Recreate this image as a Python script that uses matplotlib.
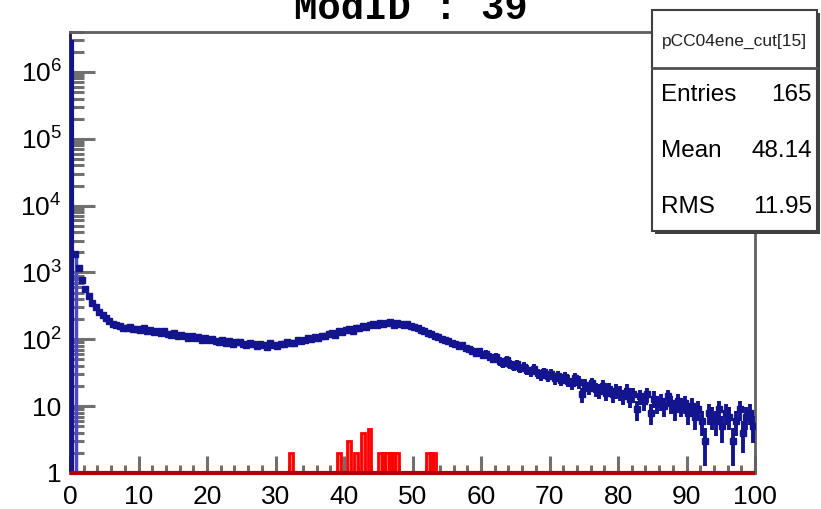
import numpy as np
import matplotlib
matplotlib.use("Agg")
from matplotlib import pyplot as plt
from matplotlib.patches import Rectangle
from matplotlib.ticker import FixedLocator, LogLocator, NullFormatter, MultipleLocator

plt.rcParams['font.family'] = ['Liberation Sans', 'DejaVu Sans']
plt.rcParams['mathtext.fontset'] = 'custom'
plt.rcParams['mathtext.rm'] = 'Liberation Sans'
plt.rcParams['mathtext.it'] = 'Liberation Sans'

# blue histogram: 200 bins of width 0.5 from 0 to 100
blue_counts = [
    3000000, 1900, 1150, 780, 560, 440, 350, 300, 255, 228,
    205, 188, 172, 165, 156, 150, 147, 152, 141, 144,
    139, 147, 133, 138, 128, 135, 124, 131, 121, 118,
    125, 114, 117, 111, 106, 113, 103, 108, 99, 104,
    96, 101, 94, 91, 98, 88, 93, 86, 90, 92,
    85, 81, 89, 84, 79, 86, 83, 77, 88, 82,
    80, 86, 84, 91, 87, 89, 96, 93, 99, 104,
    101, 109, 106, 114, 111, 119, 125, 118, 131, 127,
    136, 141, 134, 150, 146, 158, 153, 166, 172, 163,
    178, 169, 175, 181, 166, 173, 170, 161, 168, 157,
    152, 146, 139, 133, 126, 121, 113, 109, 102, 97,
    93, 89, 84, 79, 81, 74, 71, 68, 63, 66,
    58, 61, 54, 51, 55, 47, 44, 49, 42, 40,
    43, 37, 39, 35, 33, 36, 31, 29, 32, 28,
    30, 26, 28, 25, 27, 24, 22, 26, 23, 15,
    21, 19, 22, 18, 17, 20, 16, 18, 15, 17,
    16, 14, 17, 13, 15, 9, 14, 12, 15, 8,
    13, 11, 12, 10, 14, 11, 9, 12, 10, 11,
    8, 10, 7, 9, 6, 3, 8, 7, 6, 9,
    5, 8, 7, 3, 6, 9, 4, 7, 8, 5,
]
bin_width = 0.5

# red (cut) histogram: non-empty bins only
red_centers = [32.25, 39.25, 40.75, 41.75, 42.75, 43.75,
               45.25, 45.75, 46.25, 46.75, 47.25, 47.75,
               52.25, 52.75, 53.25]
red_counts = [2, 2, 3, 2, 4, 4.5,
              2, 2, 2, 2, 2, 2,
              2, 2, 2]

stats_title = "pCC04ene_cut[15]"
stats_rows = [("Entries", "165"), ("Mean", "48.14"), ("RMS", "11.95")]
title = "ModID : 39"

W, H = 821, 509
fig = plt.figure(figsize=(W / 100, H / 100), dpi=100)
ax = fig.add_axes([70 / W, 1 - 473 / H, 685 / W, (473 - 31.7) / H])

navy = '#14148f'
counts = np.array(blue_counts, dtype=float)
centers = np.arange(len(counts)) * bin_width + bin_width / 2

# spike in first bin and the rising edge
ax.vlines(centers[0], 1, counts[0], color=navy, lw=3, zorder=3)
ax.vlines(centers[1] + 0.1, 1, counts[1], color='#4a4ac4', lw=2.5, zorder=3)
ax.errorbar(centers[1:], counts[1:], xerr=bin_width / 2, yerr=np.sqrt(counts[1:]),
            fmt='s', ms=4.5, color=navy, ecolor=navy, elinewidth=2.8, capsize=0, zorder=3)

# red histogram
ax.bar(red_centers, np.array(red_counts) - 1, bottom=1, width=bin_width,
       color=(1, 0.25, 0.25, 0.8), edgecolor='red', lw=2, zorder=2)
ax.hlines(1.0, 0, 100, color='#b00000', lw=3, zorder=4, clip_on=False)

ax.set_xlim(0, 100)
ax.set_yscale('log')
ax.set_ylim(1, 4e6)

ax.xaxis.set_major_locator(MultipleLocator(10))
ax.xaxis.set_minor_locator(MultipleLocator(2))
yt = [1, 10, 1e2, 1e3, 1e4, 1e5, 1e6]
ax.yaxis.set_major_locator(FixedLocator(yt))
ax.set_yticklabels(['1', '10', '$10^{2}$', '$10^{3}$', '$10^{4}$', '$10^{5}$', '$10^{6}$'])
ax.yaxis.set_minor_locator(LogLocator(base=10, subs=np.arange(2, 10), numticks=20))
ax.yaxis.set_minor_formatter(NullFormatter())

ax.tick_params(axis='both', which='both', direction='in', colors='#707070',
               labelcolor='black', labelsize=19, top=False, right=False)
ax.tick_params(axis='x', which='major', length=12, width=2.2, pad=9)
ax.tick_params(axis='x', which='minor', length=6, width=2.2)
ax.tick_params(axis='y', which='major', length=18, width=2.2, pad=6)
ax.tick_params(axis='y', which='minor', length=10, width=2.2)
for s in ax.spines.values():
    s.set_color('#606060')
    s.set_linewidth(2)
ax.spines['left'].set_color('#1a1a50')

fig.text(411 / W, 1 - 19 / H, title, family=['Liberation Mono', 'DejaVu Sans Mono'],
         fontsize=28, ha='center', va='baseline', weight='bold')

# stats box with shadow
bx0, by0, bx1, by1 = 652, 10, 817, 231
fig.patches.append(Rectangle(((bx0 + 3) / W, 1 - (by1 + 3) / H), (bx1 - bx0) / W, (by1 - by0) / H,
                             transform=fig.transFigure, fc='#404040', ec='none', zorder=5))
fig.patches.append(Rectangle((bx0 / W, 1 - by1 / H), (bx1 - bx0) / W, (by1 - by0) / H,
                             transform=fig.transFigure, fc='white', ec='#404040', lw=1.5, zorder=6))
fig.lines.append(plt.Line2D([bx0 / W, bx1 / W], [1 - 68 / H, 1 - 68 / H],
                            transform=fig.transFigure, color='#505050', lw=2, zorder=7))
fig.text((bx0 + bx1) / 2 / W, 1 - 41 / H, stats_title, fontsize=12.5, ha='center', va='center',
         color='#222222', zorder=8)
for i, (k, v) in enumerate(stats_rows):
    y = 1 - (95 + i * 56) / H
    fig.text(661 / W, y, k, fontsize=17.5, ha='left', va='center', zorder=8)
    fig.text(812 / W, y, v, fontsize=17.5, ha='right', va='center', zorder=8)

fig.savefig('out.png', dpi=100)
